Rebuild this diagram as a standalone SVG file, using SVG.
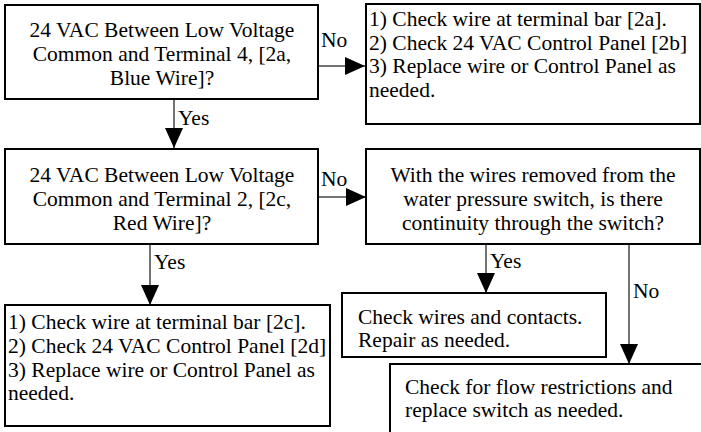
<svg xmlns="http://www.w3.org/2000/svg" width="701" height="432" viewBox="0 0 701 432" font-family="Liberation Serif, Times New Roman, serif" font-size="21.5">
<style>
.box{fill:#fff;stroke:#000;stroke-width:2}
.c{text-anchor:middle}
.conn{stroke:#444;stroke-width:1.5;fill:none}
</style>
<defs>
<marker id="ah" markerUnits="userSpaceOnUse" markerWidth="20" markerHeight="18" refX="20" refY="9" orient="auto">
<path d="M0,0 L20,9 L0,18 Z" fill="#000"/>
</marker>
</defs>
<g id="connectors">
<line class="conn" x1="319" y1="66" x2="365" y2="66" marker-end="url(#ah)"/>
<line class="conn" x1="174" y1="100" x2="174" y2="148" marker-end="url(#ah)"/>
<line class="conn" x1="319" y1="197" x2="366" y2="197" marker-end="url(#ah)"/>
<line class="conn" x1="150" y1="245" x2="150" y2="305" marker-end="url(#ah)"/>
<line class="conn" x1="486" y1="245" x2="486" y2="293" marker-end="url(#ah)"/>
<line class="conn" x1="629" y1="245" x2="629" y2="364" marker-end="url(#ah)"/>
<text x="321" y="47">No</text>
<text x="178" y="125">Yes</text>
<text x="321" y="186">No</text>
<text x="154" y="269">Yes</text>
<text x="490" y="268">Yes</text>
<text x="633" y="298">No</text>
</g>
<g id="q1">
<rect class="box" x="5" y="5" width="313" height="94"/>
<text class="c" x="162" y="37">24 VAC Between Low Voltage</text>
<text class="c" x="162" y="61">Common and Terminal 4, [2a,</text>
<text class="c" x="162" y="85">Blue Wire]?</text>
</g>
<g id="a1">
<rect class="box" x="366" y="4" width="334" height="120"/>
<text x="369" y="26">1) Check wire at terminal bar [2a].</text>
<text x="369" y="50">2) Check 24 VAC Control Panel [2b]</text>
<text x="369" y="73">3) Replace wire or Control Panel as</text>
<text x="369" y="97">needed.</text>
</g>
<g id="q2">
<rect class="box" x="5" y="149" width="313" height="95"/>
<text class="c" x="162" y="182">24 VAC Between Low Voltage</text>
<text class="c" x="162" y="206">Common and Terminal 2, [2c,</text>
<text class="c" x="162" y="230">Red Wire]?</text>
</g>
<g id="q3">
<rect class="box" x="366" y="149" width="334" height="95"/>
<text class="c" x="533" y="182">With the wires removed from the</text>
<text class="c" x="533" y="206">water pressure switch, is there</text>
<text class="c" x="533" y="230">continuity through the switch?</text>
</g>
<g id="a2">
<rect class="box" x="5" y="305" width="325" height="121"/>
<text x="8" y="329">1) Check wire at terminal bar [2c].</text>
<text x="8" y="353">2) Check 24 VAC Control Panel [2d]</text>
<text x="8" y="377">3) Replace wire or Control Panel as</text>
<text x="8" y="400">needed.</text>
</g>
<g id="a3">
<rect class="box" x="342" y="293" width="264" height="64"/>
<text x="358" y="324">Check wires and contacts.</text>
<text x="358" y="347">Repair as needed.</text>
</g>
<g id="a4">
<rect class="box" x="390" y="364" width="330" height="100"/>
<text x="405" y="394">Check for flow restrictions and</text>
<text x="405" y="417">replace switch as needed.</text>
</g>
</svg>
